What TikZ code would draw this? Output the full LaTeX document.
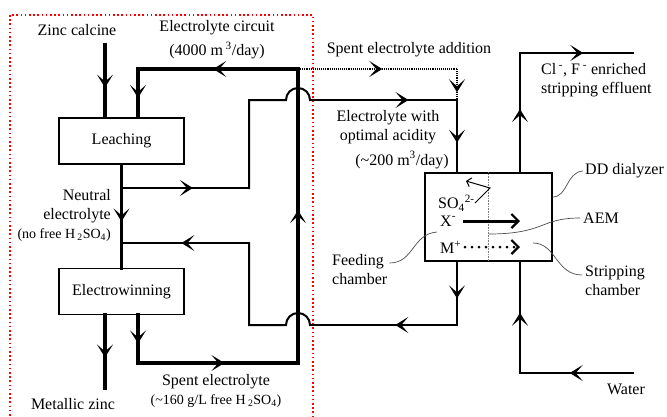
\documentclass[tikz,border=0pt]{standalone}
\usepackage{fontspec}
\setmainfont{Liberation Serif}
\usetikzlibrary{arrows.meta,decorations.markings,positioning}

\tikzset{
  flowtip/.tip={Stealth[length=13pt,width=16pt,inset=7pt,line width=1.3pt]},
  heavy/.style={line width=3.8pt,line cap=rect},
  light/.style={line width=2pt,line cap=rect},
  addline/.style={line width=1.1pt,densely dotted},
  midarr/.style={postaction={decorate},decoration={markings,mark=at position #1 with {\arrow[solid]{flowtip}}}},
  midarr/.default=0.5,
  unit/.style={draw,line width=1.5pt,minimum width=125pt,minimum height=46pt,font=\fontsize{16}{19}\selectfont},
  lbl/.style={font=\fontsize{16}{19}\selectfont,inner sep=0pt},
  leader/.style={gray!60!black,line width=0.7pt},
}

\begin{document}
\begin{tikzpicture}[x=1pt,y=-1pt]
\useasboundingbox (0,0) rectangle (667,416);
% plant boundary
\draw[red,line width=1.8pt,dash pattern=on 1.6pt off 2.6pt] (10,15) rectangle (313,430);

% units
\node[unit] (leach) at (121.5,141) {Leaching};
\node[unit] (ewin) at (121.5,291.5) {Electrowinning};
\node[draw,line width=1.2pt,minimum width=127pt,minimum height=88pt] (dd) at (488.5,217) {};
\draw[gray,densely dotted,line width=0.6pt] (dd.north) -- (dd.south);

% labels
\node[lbl] (calcine) at (77,30) {Zinc calcine};
\node[lbl,align=center] (circuit) at (217,40) {Electrolyte circuit\\[5pt](4000 m\,\textsuperscript{3}/day)};
\node[lbl] (addition) at (409,50) {Spent electrolyte addition};
\node[lbl,align=center] (optimal) at (388,127) {Electrolyte with\\optimal acidity};
\node[lbl] (optflow) at (402,160) {(\textasciitilde200 m\textsuperscript{3}/day)};
\node[lbl,align=left,anchor=west] (effluent) at (541,80) {Cl\,\textsuperscript{-}, F\,\textsuperscript{-} enriched\\stripping effluent};
\node[lbl,anchor=west] (ddlbl) at (585,171) {DD dialyzer};
\node[lbl,anchor=west] (aem) at (583,218) {AEM};
\node[lbl,align=left,anchor=north west] (strip) at (585,266) {Stripping\\chamber};
\node[lbl,align=left,anchor=north west] (feed) at (332,254) {Feeding\\chamber};
\node[lbl] (water) at (626,389) {Water};
\node[lbl,align=right,anchor=east] (neutral) at (111,215) {Neutral\\electrolyte\\{\fontsize{14}{17}\selectfont(no free H\,\textsubscript{2}SO\textsubscript{4})}};
\node[lbl,align=center] (spent) at (216,391) {Spent electrolyte\\{\fontsize{14}{17}\selectfont(\textasciitilde160 g/L free H\,\textsubscript{2}SO\textsubscript{4})}};
\node[lbl] (zinc) at (73,404) {Metallic zinc};

% ions in the dialyzer
\node[lbl,anchor=west] (so4) at (438,203) {SO\textsubscript{4}\textsuperscript{2-}};
\node[lbl,anchor=west] (xion) at (440,221) {X\textsuperscript{-}};
\node[lbl,anchor=west] (mion) at (440,247) {M\textsuperscript{+}};
\coordinate (sa) at (475,203);
\coordinate (sb) at (490,188);
\coordinate (sc) at (466,181);
\draw[line width=1pt,-{Straight Barb[length=4pt,width=9pt]}] (sa) -- (sb) -- (sc);
\coordinate (xa) at (463,221);
\coordinate (xb) at (520,221);
\draw[line width=3pt,-{Straight Barb[length=7pt,width=14pt,line width=2.2pt]}] (xa) -- (xb);
\coordinate (ma) at (465,247);
\coordinate (mb) at (520,247);
\draw[line width=3pt,line cap=round,dash pattern=on 0pt off 7pt,-{Straight Barb[length=7pt,width=14pt,line width=2.2pt]}] (ma) -- (mb);

% leaders
\draw[leader] ([yshift=20pt]dd.east) .. controls (568,197) and (566,172) .. ([xshift=-2pt]ddlbl.west);
\draw[leader] ([yshift=-17pt]dd.center) .. controls (545,234) and (540,218) .. ([xshift=-3pt]aem.west);
\coordinate (sl) at (533,243);
\draw[leader] (sl) .. controls (556,243) and (556,275) .. ([xshift=-3pt,yshift=-9pt]strip.north west);
\coordinate (fl) at (437,232);
\draw[leader] (fl) .. controls (412,234) and (414,263) .. ([xshift=2pt,yshift=-9pt]feed.north east);

% zinc calcine feed
\coordinate (calc) at (105,45);
\draw[heavy,midarr=0.59] (calc) -- (calc |- leach.north);

% electrolyte circuit
\coordinate (tr) at (298,69);
\coordinate (tl) at (138,69);
\coordinate (bl) at (138,363);
\coordinate (br) at (298,363);
\coordinate (zn) at (105,388);
\draw[heavy,midarr=0.53] (tr) -- (tl);
\draw[heavy,midarr=0.6] (tl) -- (tl |- leach.north);
\draw[heavy,midarr=0.55] (leach.south) -- (ewin.north);
\draw[heavy,midarr=0.58] (zn |- ewin.south) -- (zn);
\draw[heavy,midarr=0.59] (bl |- ewin.south) -- (bl);
\draw[heavy,midarr=0.54] (bl) -- (br);
\draw[heavy,midarr=0.52] (br) -- (tr);

% neutral electrolyte to dialyzer
\coordinate (na) at (121.5,188);
\coordinate (nb) at (249,188);
\coordinate (nc) at (249,100);
\coordinate (ja) at (286,100);
\coordinate (jb) at (310,100);
\coordinate (oa) at (457,100);
\draw[light,midarr=0.56] (na) -- (nb);
\draw[light] (nb) -- (nc) -- (ja) arc[start angle=180,end angle=0,radius=12pt];
\draw[light,midarr=0.67] (jb) -- (oa);
\draw[light,midarr=0.59] (oa) -- (oa |- dd.north);

% return from dialyzer
\coordinate (ob) at (457,325);
\coordinate (jc) at (310,325);
\coordinate (rb) at (249,325);
\coordinate (rc) at (249,243);
\coordinate (rd) at (121.5,243);
\draw[light,midarr=0.58] (ob |- dd.south) -- (ob);
\draw[light,midarr=0.42] (ob) -- (jc);
\draw[light] (jc) arc[start angle=0,end angle=180,radius=12pt] -- (rb) -- (rc);
\draw[light,midarr=0.53] (rc) -- (rd);

% spent electrolyte addition
\coordinate (ad) at (457,69);
\draw[addline,midarr=0.53] (tr) -- (ad);
\draw[addline,midarr=0.75] (ad) -- (oa);

% stripping side
\coordinate (ea) at (520,53);
\coordinate (eb) at (633,53);
\coordinate (wa) at (633,373);
\coordinate (wb) at (520,373);
\draw[light,midarr=0.53] (ea |- dd.north) -- (ea);
\draw[light,midarr=0.56] (ea) -- (eb);
\draw[light,midarr=0.56] (wa) -- (wb);
\draw[light,midarr=0.54] (wb) -- (wb |- dd.south);
\end{tikzpicture}
\end{document}
